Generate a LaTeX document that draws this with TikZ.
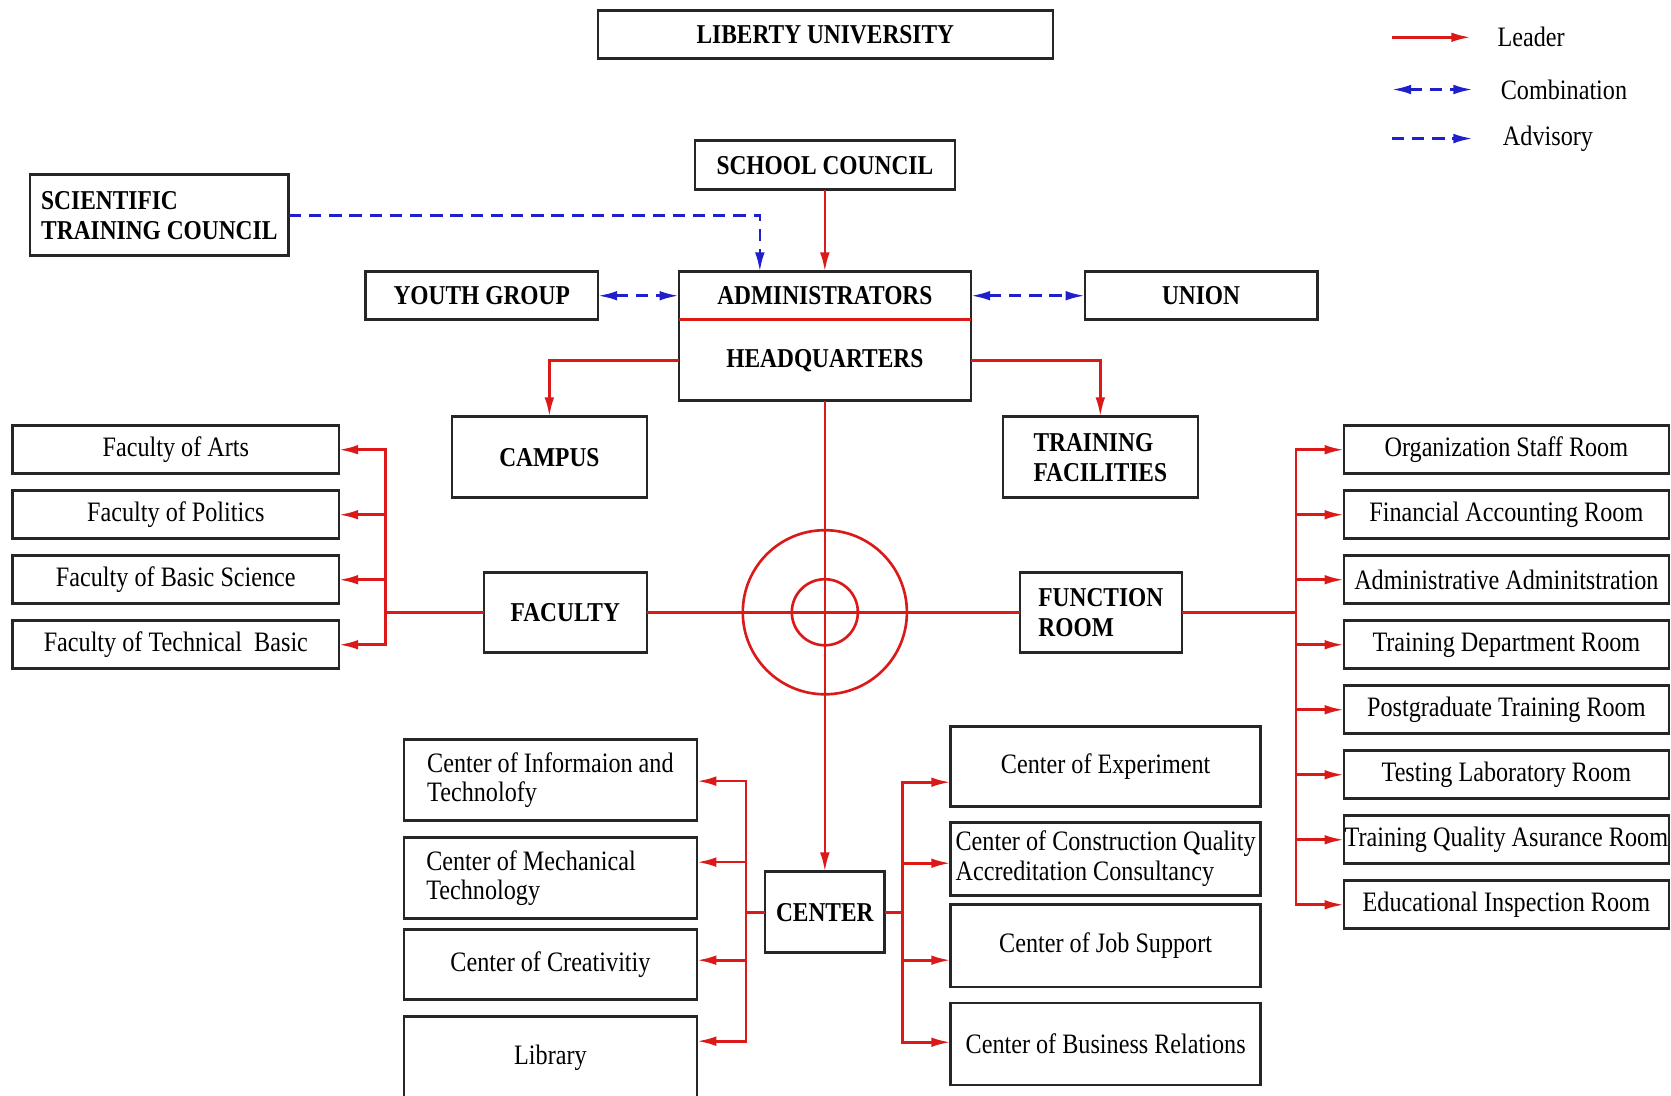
\documentclass[tikz,border=0pt]{standalone}
\usepackage{fontspec}
\setmainfont[FakeStretch=0.86]{Liberation Serif}
\usepackage{tikz}
\usetikzlibrary{arrows.meta}
\usetikzlibrary{positioning}
\definecolor{leadred}{rgb}{0.86,0.1,0.1}
\definecolor{combblue}{rgb}{0.12,0.12,0.8}
\definecolor{boxgray}{rgb}{0.15,0.15,0.15}
\newcommand{\pxu}{0.021314cm}
\tikzset{
  box/.style={draw=boxgray, line width=1.5pt, fill=white, inner sep=0pt, outer sep=0pt, font=\fontsize{16}{17}\selectfont},
  capbox/.style={box, font=\bfseries\fontsize{15.5}{17}\selectfont},
  wh/.style 2 args={minimum width=#1*\pxu, minimum height=#2*\pxu},
  lead/.style={draw=leadred, line width=1.5pt},
  comb/.style={draw=combblue, line width=1.5pt, dash pattern=on 7pt off 4.5pt},
  legend/.style={anchor=west, inner sep=0pt, font=\fontsize{16}{17}\selectfont}
}

\begin{document}
\begin{tikzpicture}[line cap=butt,line join=miter,>={Latex[length=11pt,width=5.5pt]},x=\pxu,y=-\pxu]
\clip (0,0) rectangle (1568,1028);
\fill[white] (0,0) rectangle (1568,1028);

\node[capbox, wh={427}{45}] (univ) at (774.5,32.5) {LIBERTY UNIVERSITY};
\node[capbox, wh={244}{46}] (school) at (774,155) {SCHOOL COUNCIL};
\node[capbox, wh={243}{76}, align=left] (sci) at (149.5,202) {SCIENTIFIC\\TRAINING COUNCIL};
\node[capbox, wh={274}{45}] (adm) at (774,277.5) {ADMINISTRATORS};
\node[capbox, wh={274}{76}, below=0pt of adm] (hq) {HEADQUARTERS};
\node[capbox, wh={218}{45}] (youth) at (452,277.5) {YOUTH GROUP};
\node[capbox, wh={218}{45}] (union) at (1127,277.5) {UNION};
\node[capbox, wh={183}{76}] (campus) at (515.5,429) {CAMPUS};
\node[capbox, wh={183}{76}, align=left] (trainfac) at (1032.5,429) {TRAINING\\FACILITIES};
\node[capbox, wh={153}{75}] (faculty) at (530.5,574.5) {FACULTY};
\node[capbox, wh={152}{75}, align=left] (funcroom) at (1033,574.5) {FUNCTION\\ROOM};
\node[capbox, wh={112}{76}] (cen) at (774,856) {CENTER};

\foreach \n/\y/\t in {fa1/422/Faculty of Arts, fa2/483/Faculty of Politics, fa3/544/Faculty of Basic Science, fa4/605/Faculty of Technical\ \ Basic}
  \node[box, wh={306}{45}] (\n) at (165,\y) {\t};

\foreach \n/\y/\t in {rm1/422/Organization Staff Room, rm2/483/Financial Accounting Room, rm3/544/Administrative Adminitstration, rm4/605/Training Department Room, rm5/666/Postgraduate Training Room, rm6/727/Testing Laboratory Room, rm7/788/Training Quality Asurance Room, rm8/849/Educational Inspection Room}
  \node[box, wh={305}{45}] (\n) at (1413.5,\y) {\t};

\node[box, wh={275}{76}, align=left] (info) at (516.5,732) {Center of Informaion and\\Technolofy};
\node[box, wh={275}{76}, text width=4.966cm, align=flush left] (mech) at (516.5,824) {Center of Mechanical\\Technology};
\node[box, wh={275}{66}] (creat) at (516.5,905) {Center of Creativitiy};
\node[box, wh={275}{78}] (lib) at (516.5,993) {Library};
\node[box, wh={291}{75}] (exper) at (1037.5,719.5) {Center of Experiment};
\node[box, wh={291}{68}, align=left] (constr) at (1037.5,806) {Center of Construction Quality\\Accreditation Consultancy};
\node[box, wh={291}{77}] (job) at (1037.5,887.5) {Center of Job Support};
\node[box, wh={291}{77}] (busrel) at (1037.5,979.5) {Center of Business Relations};

\node[legend] (lgLead) at (1405,35) {Leader};
\node[legend] (lgComb) at (1408,84) {Combination};
\node[legend] (lgAdv) at (1410,130) {Advisory};
\draw[lead,->] ([xshift=-99*\pxu]lgLead.west) -- ([xshift=-25*\pxu]lgLead.west);
\draw[comb,<->] ([xshift=-102*\pxu]lgComb.west) -- ([xshift=-26*\pxu]lgComb.west);
\draw[comb,->] ([xshift=-104*\pxu]lgAdv.west) -- ([xshift=-28*\pxu]lgAdv.west);

\draw[lead] (hq.north west) -- (hq.north east);
\draw[lead,->] (school) -- (adm);
\draw[comb,<->] (youth) -- (adm);
\draw[comb,<->] (adm) -- (union);
\draw[comb,->] (sci.east) -| ([xshift=-61*\pxu]adm.north);
\draw[lead,->] (hq.west) -| (campus.north);
\draw[lead,->] (hq.east) -| (trainfac.north);
\draw[lead,->] (hq.south) -- (cen.north);
\draw[lead] (faculty.east) -- (funcroom.west);
\coordinate (hub) at (774,574.5);
\draw[lead] (hub) circle[radius=77*\pxu] (hub) circle[radius=31*\pxu];

\coordinate (fbus) at (362,574.5);
\draw[lead] (faculty.west) -- (fbus);
\foreach \n in {fa1,fa2,fa3,fa4}
  \draw[lead,->] (fbus) |- (\n.east);

\coordinate (rbus) at (1216,574.5);
\draw[lead] (funcroom.east) -- (rbus);
\foreach \n in {rm1,rm2,rm3,rm4,rm5,rm6,rm7,rm8}
  \draw[lead,->] (rbus) |- (\n.west);

\coordinate (lbus) at (700,856);
\draw[lead] (cen.west) -- (lbus);
\foreach \n/\y in {info/733, mech/809, creat/901, lib/977}
  \draw[lead,->] (lbus) |- (\n.east |- 0,\y);

\coordinate (rcbus) at (847,856);
\draw[lead] (cen.east) -- (rcbus);
\foreach \n/\y in {exper/734, constr/810, job/901, busrel/978}
  \draw[lead,->] (rcbus) |- (\n.west |- 0,\y);
\end{tikzpicture}
\end{document}
